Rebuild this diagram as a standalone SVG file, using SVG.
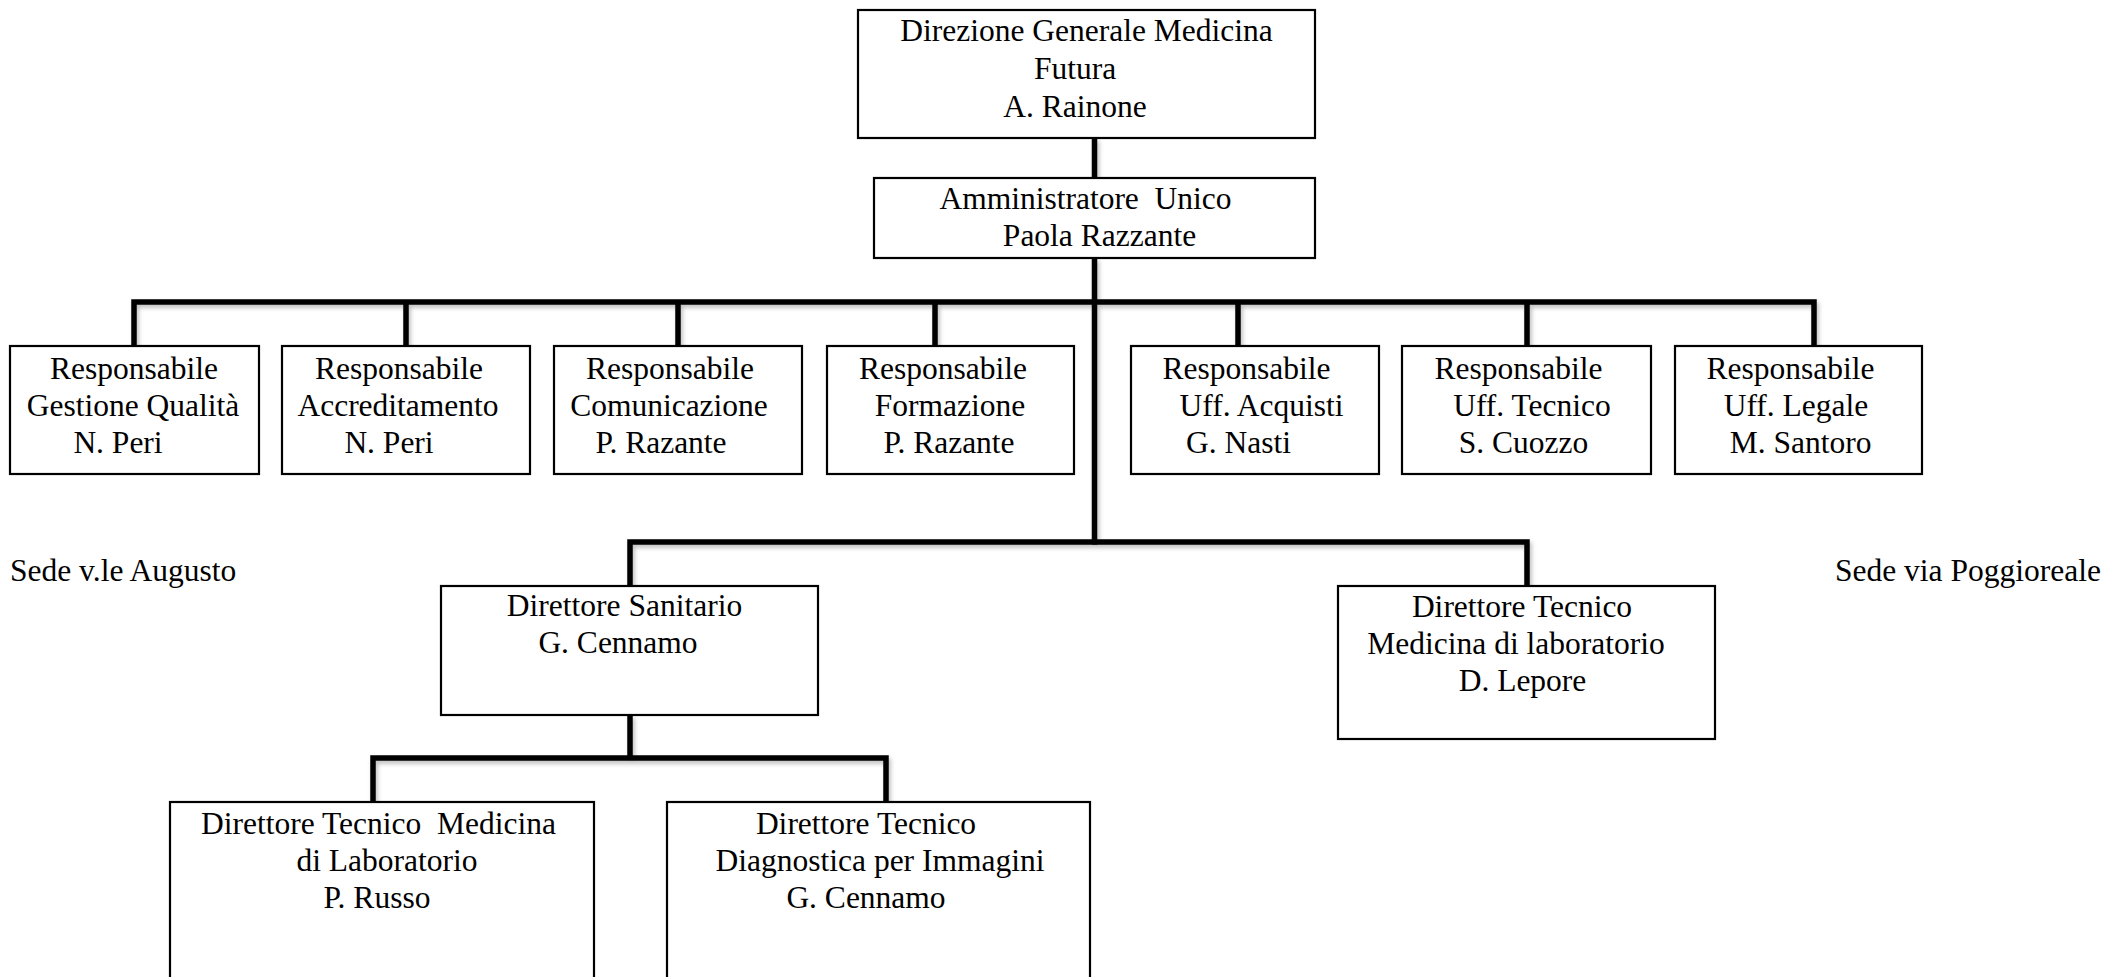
<svg xmlns="http://www.w3.org/2000/svg" width="2109" height="977" viewBox="0 0 2109 977">
<style>
  text { font-family: "Liberation Serif", "Times New Roman", serif; font-size: 31.5px; fill: #000; white-space: pre; }
  .c { text-anchor: middle; }
  .box { fill: #fff; stroke: #000; stroke-width: 2.2; }
  .ln { fill: none; stroke: #000; stroke-width: 5.5; stroke-linecap: butt; stroke-linejoin: miter; }
</style>
<defs>
  <filter id="sh" x="-5%" y="-5%" width="110%" height="110%">
    <feDropShadow dx="2" dy="3" stdDeviation="2" flood-color="#000" flood-opacity="0.25"/>
  </filter>
</defs>
<rect width="2109" height="977" fill="#fff"/>

<g id="connectors" filter="url(#sh)">
  <path class="ln" d="M1094.5 138 V178"/>
  <path class="ln" d="M1094.5 258 V544.5"/>
  <path class="ln" d="M134 349 V302 H1814 V349"/>
  <path class="ln" d="M406 302 V349"/>
  <path class="ln" d="M678 302 V349"/>
  <path class="ln" d="M935 302 V349"/>
  <path class="ln" d="M1238 302 V349"/>
  <path class="ln" d="M1527 302 V349"/>
  <path class="ln" d="M630 589 V542 H1527 V589"/>
  <path class="ln" d="M630 715 V758"/>
  <path class="ln" d="M373 805 V758 H886 V805"/>
</g>

<g id="n-direzione">
  <rect class="box" x="858" y="10" width="457" height="128"/>
  <text class="c" x="1086.5" y="41">Direzione Generale Medicina</text>
  <text class="c" x="1075" y="79">Futura</text>
  <text class="c" x="1075" y="117">A. Rainone</text>
</g>

<g id="n-amministratore">
  <rect class="box" x="874" y="178" width="441" height="80"/>
  <text class="c" x="1085.5" y="209">Amministratore  Unico</text>
  <text class="c" x="1099.5" y="246">Paola Razzante</text>
</g>

<g id="n-qualita">
  <rect class="box" x="10" y="346" width="249" height="128"/>
  <text class="c" x="134" y="379">Responsabile</text>
  <text class="c" x="133" y="416">Gestione Qualità</text>
  <text class="c" x="118" y="453">N. Peri</text>
</g>

<g id="n-accreditamento">
  <rect class="box" x="282" y="346" width="248" height="128"/>
  <text class="c" x="399" y="379">Responsabile</text>
  <text class="c" x="398" y="416">Accreditamento</text>
  <text class="c" x="389" y="453">N. Peri</text>
</g>

<g id="n-comunicazione">
  <rect class="box" x="554" y="346" width="248" height="128"/>
  <text class="c" x="670" y="379">Responsabile</text>
  <text class="c" x="669" y="416">Comunicazione</text>
  <text class="c" x="661" y="453">P. Razante</text>
</g>

<g id="n-formazione">
  <rect class="box" x="827" y="346" width="247" height="128"/>
  <text class="c" x="943" y="379">Responsabile</text>
  <text class="c" x="950" y="416">Formazione</text>
  <text class="c" x="949" y="453">P. Razante</text>
</g>

<g id="n-acquisti">
  <rect class="box" x="1131" y="346" width="248" height="128"/>
  <text class="c" x="1246.5" y="379">Responsabile</text>
  <text class="c" x="1261.5" y="416">Uff. Acquisti</text>
  <text class="c" x="1238.5" y="453">G. Nasti</text>
</g>

<g id="n-tecnico">
  <rect class="box" x="1402" y="346" width="249" height="128"/>
  <text class="c" x="1518.5" y="379">Responsabile</text>
  <text class="c" x="1532" y="416">Uff. Tecnico</text>
  <text class="c" x="1523.5" y="453">S. Cuozzo</text>
</g>

<g id="n-legale">
  <rect class="box" x="1675" y="346" width="247" height="128"/>
  <text class="c" x="1790.5" y="379">Responsabile</text>
  <text class="c" x="1796" y="416">Uff. Legale</text>
  <text class="c" x="1800.5" y="453">M. Santoro</text>
</g>

<g id="sede-augusto">
  <text x="10" y="581">Sede v.le Augusto</text>
</g>

<g id="sede-poggioreale">
  <text x="1835" y="581">Sede via Poggioreale</text>
</g>

<g id="n-sanitario">
  <rect class="box" x="441" y="586" width="377" height="129"/>
  <text class="c" x="624.5" y="616">Direttore Sanitario</text>
  <text class="c" x="618" y="653">G. Cennamo</text>
</g>

<g id="n-tecnico-lab">
  <rect class="box" x="1338" y="586" width="377" height="153"/>
  <text class="c" x="1522" y="617">Direttore Tecnico</text>
  <text class="c" x="1516" y="654">Medicina di laboratorio</text>
  <text class="c" x="1522.5" y="691">D. Lepore</text>
</g>

<g id="n-tecnico-medicina">
  <rect class="box" x="170" y="802" width="424" height="200"/>
  <text class="c" x="378.5" y="834">Direttore Tecnico  Medicina</text>
  <text class="c" x="387" y="871">di Laboratorio</text>
  <text class="c" x="377" y="908">P. Russo</text>
</g>

<g id="n-diagnostica">
  <rect class="box" x="667" y="802" width="423" height="200"/>
  <text class="c" x="866" y="834">Direttore Tecnico</text>
  <text class="c" x="880" y="871">Diagnostica per Immagini</text>
  <text class="c" x="866" y="908">G. Cennamo</text>
</g>
</svg>
